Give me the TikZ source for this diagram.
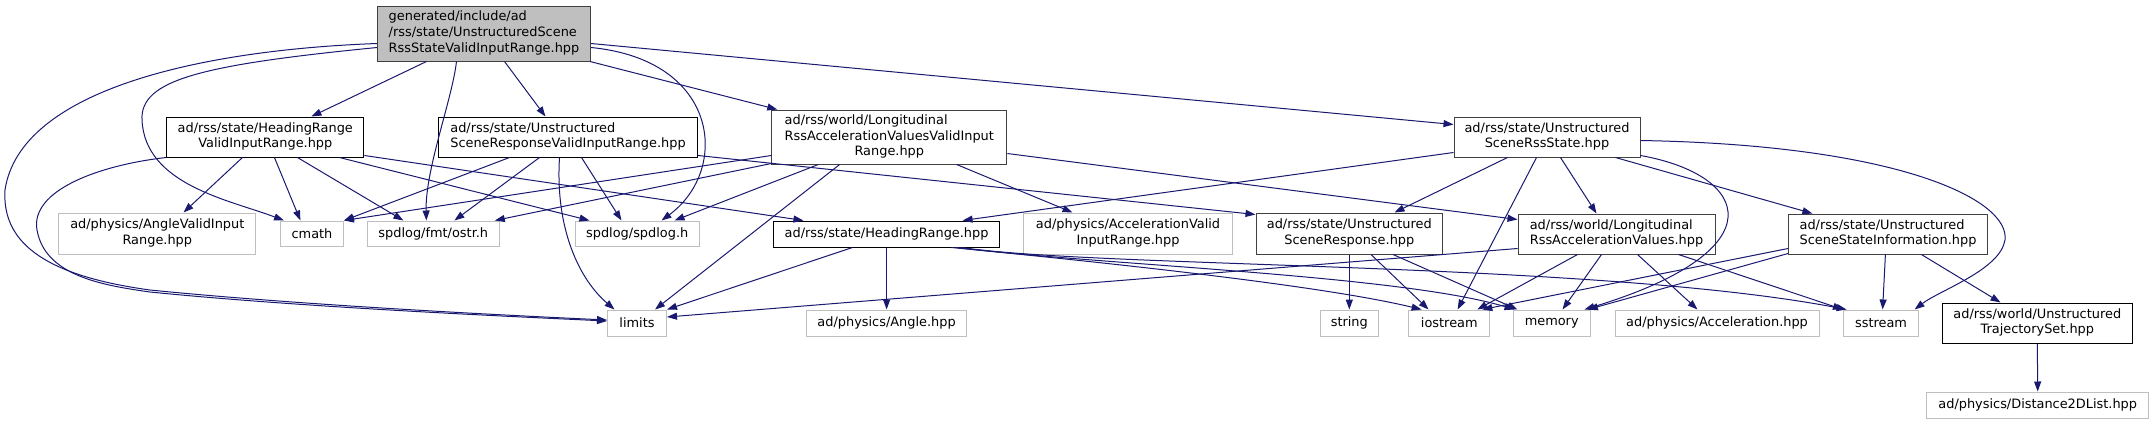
\documentclass[tikz,border=0pt]{standalone}
\usepackage{fontspec}
\setmainfont{DejaVu Sans}
\usetikzlibrary{arrows.meta,calc}
\definecolor{edgec}{HTML}{191970}
\definecolor{lgray}{HTML}{BFBFBF}
\definecolor{dgray}{HTML}{404040}
\newcommand\dxf{\fontsize{12.9pt}{15.7pt}\selectfont}
\newcommand\dxl[2]{\begin{tabular}{@{}l@{}}#1\\\multicolumn{1}{@{}c@{}}{#2}\end{tabular}}
\begin{document}
\begin{tikzpicture}[x=1pt,y=-1pt,
  doc/.style={draw=black,fill=white,rectangle,inner sep=0pt,line width=1pt,font=\dxf},
  docg/.style={doc,draw=dgray},
  ext/.style={doc,draw=lgray},
  rootn/.style={doc,draw=dgray,fill=lgray},
  dep/.style={draw=edgec,line width=1pt,-{Triangle[length=10pt,width=7pt]}}]
\useasboundingbox (0,0) rectangle (2154,424);
% nodes
\node[rootn,minimum width=213pt,minimum height=55pt] (root) at (484,33.5) {\dxl{generated/include/ad\\/rss/state/UnstructuredScene}{RssStateValidInputRange.hpp}};
\node[doc,minimum width=197.3pt,minimum height=40pt] (hrvir) at (265.3,137) {\dxl{ad/rss/state/HeadingRange}{ValidInputRange.hpp}};
\node[doc,minimum width=259pt,minimum height=40pt] (usrvir) at (568,137) {\dxl{ad/rss/state/Unstructured}{SceneResponseValidInputRange.hpp}};
\node[docg,minimum width=235pt,minimum height=54pt] (lavvir) at (889.3,137) {\dxl{ad/rss/world/Longitudinal\\RssAccelerationValuesValidInput}{Range.hpp}};
\node[docg,minimum width=186pt,minimum height=40pt] (usrs) at (1547,137) {\dxl{ad/rss/state/Unstructured}{SceneRssState.hpp}};
\node[ext,minimum width=197pt,minimum height=41pt] (anglevir) at (157.3,233.5) {\dxl{ad/physics/AngleValidInput}{Range.hpp}};
\node[ext,minimum width=63pt,minimum height=25pt] (cmath) at (312,233.5) {cmath};
\node[ext,minimum width=132pt,minimum height=25pt] (ostr) at (433.3,233.5) {spdlog/fmt/ostr.h};
\node[ext,minimum width=124.4pt,minimum height=25pt] (spdlog) at (637.2,233.5) {spdlog/spdlog.h};
\node[doc,minimum width=226pt,minimum height=26pt] (heading) at (886.6,234) {ad/rss/state/HeadingRange.hpp};
\node[ext,minimum width=208.4pt,minimum height=41pt] (accvir) at (1128,233.5) {\dxl{ad/physics/AccelerationValid}{InputRange.hpp}};
\node[docg,minimum width=186.6pt,minimum height=41pt] (usr) at (1349.3,233.5) {\dxl{ad/rss/state/Unstructured}{SceneResponse.hpp}};
\node[docg,minimum width=197pt,minimum height=40pt] (lav) at (1616.5,234) {\dxl{ad/rss/world/Longitudinal}{RssAccelerationValues.hpp}};
\node[docg,minimum width=199pt,minimum height=40pt] (ussi) at (1888,234) {\dxl{ad/rss/state/Unstructured}{SceneStateInformation.hpp}};
\node[ext,minimum width=59pt,minimum height=26pt] (limits) at (637,323) {limits};
\node[ext,minimum width=160pt,minimum height=26pt] (angle) at (886.6,323) {ad/physics/Angle.hpp};
\node[ext,minimum width=58.6pt,minimum height=26pt] (string) at (1349.3,323) {string};
\node[ext,minimum width=81pt,minimum height=26pt] (iostream) at (1449.3,323) {iostream};
\node[ext,minimum width=77.4pt,minimum height=26pt] (memory) at (1551.7,323) {memory};
\node[ext,minimum width=204pt,minimum height=26pt] (accel) at (1717,323) {ad/physics/Acceleration.hpp};
\node[ext,minimum width=75pt,minimum height=26pt] (sstream) at (1881,323) {sstream};
\node[doc,minimum width=189.5pt,minimum height=40pt] (trajset) at (2037.3,323) {\dxl{ad/rss/world/Unstructured}{TrajectorySet.hpp}};
\node[ext,minimum width=222pt,minimum height=26pt] (dist2d) at (2037.7,405) {ad/physics/Distance2DList.hpp};
% root edges
\draw[dep] ($(root.south west)+(49.5,0)$) -- ($(hrvir.north west)+(145.3,0)$);
\draw[dep] ($(root.south west)+(79.5,0)$) .. controls (452,100) and (425,170) .. ($(ostr.north west)+(59.6,0)$);
\draw[dep] ($(root.south west)+(127.5,0)$) -- ($(usrvir.north west)+(107.5,0)$);
\draw[dep] ($(root.south west)+(0,-18)$) .. controls (200,50) and (20,90) .. (5,190) .. controls (2,240) and (40,275) .. (150,290) .. controls (300,305) and (500,315) .. ($(limits.west)+(0,-3)$);
\draw[dep] ($(root.south west)+(0,-14)$) .. controls (200,65) and (140,80) .. (142,120) .. controls (145,185) and (230,200) .. ($(cmath.north west)+(4,0)$);
\draw[dep] ($(root.south east)+(0,-18)$) -- ($(usrs.north west)+(0,8)$);
\draw[dep] ($(root.south east)+(0,-14)$) .. controls (720,60) and (730,170) .. ($(spdlog.north west)+(87,0)$);
\draw[dep] ($(root.south east)+(-1,0)$) -- ($(lavvir.north west)+(6,0)$);
% hrvir edges
\draw[dep] (hrvir.south west) .. controls (100,165) and (30,190) .. (37,230) .. controls (45,275) and (100,285) .. (150,292) .. controls (300,307) and (500,316) .. ($(limits.west)+(0,-2)$);
\draw[dep] ($(hrvir.south west)+(76.3,0)$) -- ($(anglevir.north west)+(125.2,0)$);
\draw[dep] ($(hrvir.south west)+(108.3,0)$) -- ($(cmath.north west)+(20.4,0)$);
\draw[dep] ($(hrvir.south west)+(131.3,0)$) -- ($(ostr.north west)+(36.6,0)$);
\draw[dep] ($(hrvir.south west)+(173.3,0)$) -- ($(spdlog.north west)+(15,0)$);
\draw[dep] ($(hrvir.south east)+(0,-2)$) -- ($(heading.north west)+(30.3,0)$);
% usrvir edges
\draw[dep] ($(usrvir.south west)+(71.5,0)$) -- (cmath.north east);
\draw[dep] ($(usrvir.south west)+(101.5,0)$) -- ($(ostr.north west)+(87.6,0)$);
\draw[dep] ($(usrvir.south west)+(121.5,0)$) .. controls (555,230) and (580,280) .. ($(limits.north west)+(7.5,0)$);
\draw[dep] ($(usrvir.south west)+(143.5,0)$) -- ($(spdlog.north west)+(47,0)$);
\draw[dep] ($(usrvir.south east)+(0,-2)$) -- ($(usr.north west)+(0,2)$);
% lavvir edges
\draw[dep] ($(lavvir.south west)+(0,-9)$) -- (cmath.north east);
\draw[dep] ($(lavvir.south west)+(0,-1)$) -- ($(ostr.north east)+(-5,0)$);
\draw[dep] ($(lavvir.south west)+(47,0)$) -- ($(spdlog.north west)+(100,0)$);
\draw[dep] ($(lavvir.south west)+(68.3,0)$) -- ($(limits.north east)+(-12,0)$);
\draw[dep] ($(lavvir.south west)+(185.3,0)$) -- ($(accvir.north west)+(49.2,0)$);
\draw[dep] ($(lavvir.south east)+(0,-11)$) -- ($(lav.north west)+(0,6)$);
% usrs edges
\draw[dep] ($(usrs.south west)+(0,-5)$) -- ($(heading.north east)+(-37.5,0)$);
\draw[dep] ($(usrs.south west)+(54,0)$) -- ($(usr.north west)+(139,0)$);
\draw[dep] ($(usrs.south west)+(83,0)$) -- ($(iostream.north west)+(49.3,0)$);
\draw[dep] ($(usrs.south west)+(107,0)$) -- ($(lav.north west)+(79,0)$);
\draw[dep] ($(usrs.south west)+(162,0)$) -- ($(ussi.north west)+(24.4,0)$);
\draw[dep] ($(usrs.south east)+(0,-2)$) .. controls (1750,175) and (1780,250) .. ($(memory.north west)+(72,0)$);
\draw[dep] ($(usrs.south east)+(0,-17)$) .. controls (1900,145) and (2010,200) .. (2005,240) .. controls (2000,270) and (1940,290) .. ($(sstream.north west)+(71.6,0)$);
% heading edges
\draw[dep] ($(heading.south west)+(79.3,0)$) -- (limits.north east);
\draw[dep] (heading.south) -- (angle.north);
\draw[dep] ($(heading.south west)+(178.3,0)$) .. controls (1100,262) and (1320,285) .. ($(iostream.north west)+(13.3,0)$);
\draw[dep] ($(heading.south west)+(183.3,0)$) .. controls (1100,265) and (1400,275) .. ($(memory.north west)+(2,0)$);
\draw[dep] ($(heading.south west)+(188.3,0)$) .. controls (1100,268) and (1600,262) .. ($(sstream.north west)+(3.6,0)$);
% usr edges
\draw[dep] (usr.south) -- (string.north);
\draw[dep] ($(usr.south)+(21.7,0)$) -- ($(iostream.north west)+(20.3,0)$);
\draw[dep] ($(usr.south)+(43.7,0)$) -- ($(memory.north west)+(5,0)$);
% lav edges
\draw[dep] ($(lav.south west)+(0,-6)$) -- ($(limits.east)+(0,-6)$);
\draw[dep] ($(lav.south west)+(60,0)$) -- ($(iostream.north east)+(-13,0)$);
\draw[dep] ($(lav.south west)+(84,0)$) -- ($(memory.north west)+(50,0)$);
\draw[dep] ($(lav.south west)+(120,0)$) -- ($(accel.north west)+(83,0)$);
\draw[dep] ($(lav.south west)+(161,0)$) -- (sstream.north west);
% ussi edges
\draw[dep] ($(ussi.south west)+(0,-6)$) -- ($(iostream.north east)+(-8,0)$);
\draw[dep] ($(ussi.south west)+(0,-1)$) -- ($(memory.north east)+(-3,0)$);
\draw[dep] ($(ussi.south west)+(97.4,0)$) -- ($(sstream.north west)+(39.6,0)$);
\draw[dep] ($(ussi.south west)+(133.4,0)$) -- ($(trajset.north west)+(58.5,0)$);
% trajset
\draw[dep] (trajset.south) -- (dist2d.north);
\end{tikzpicture}
\end{document}
